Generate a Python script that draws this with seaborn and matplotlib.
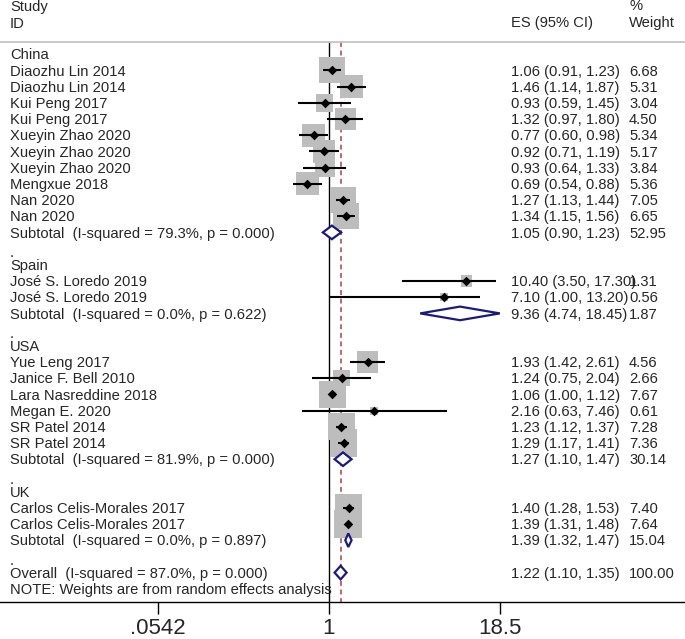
import matplotlib
matplotlib.use('Agg')
import matplotlib.pyplot as plt
import matplotlib.transforms as mtransforms
import numpy as np
import pandas as pd
import seaborn as sns

# Data
groups = ['China', 'Spain', 'USA', 'UK']
studies = ['Diaozhu Lin 2014', 'Diaozhu Lin 2014', 'Kui Peng 2017', 'Kui Peng 2017',
           'Xueyin Zhao 2020', 'Xueyin Zhao 2020', 'Xueyin Zhao 2020', 'Mengxue 2018',
           'Nan 2020', 'Nan 2020',
           'José S. Loredo 2019', 'José S. Loredo 2019',
           'Yue Leng 2017', 'Janice F. Bell 2010', 'Lara Nasreddine 2018', 'Megan E. 2020',
           'SR Patel 2014', 'SR Patel 2014',
           'Carlos Celis-Morales 2017', 'Carlos Celis-Morales 2017']
study_group = ['China'] * 10 + ['Spain'] * 2 + ['USA'] * 6 + ['UK'] * 2
es = [1.06, 1.46, 0.93, 1.32, 0.77, 0.92, 0.93, 0.69, 1.27, 1.34,
      10.40, 7.10,
      1.93, 1.24, 1.06, 2.16, 1.23, 1.29,
      1.40, 1.39]
lo = [0.91, 1.14, 0.59, 0.97, 0.60, 0.71, 0.64, 0.54, 1.13, 1.15,
      3.50, 1.00,
      1.42, 0.75, 1.00, 0.63, 1.12, 1.17,
      1.28, 1.31]
hi = [1.23, 1.87, 1.45, 1.80, 0.98, 1.19, 1.33, 0.88, 1.44, 1.56,
      17.30, 13.20,
      2.61, 2.04, 1.12, 7.46, 1.37, 1.41,
      1.53, 1.48]
weight = [6.68, 5.31, 3.04, 4.50, 5.34, 5.17, 3.84, 5.36, 7.05, 6.65,
          1.31, 0.56,
          4.56, 2.66, 7.67, 0.61, 7.28, 7.36,
          7.40, 7.64]

sub_es = [1.05, 9.36, 1.27, 1.39]
sub_lo = [0.90, 4.74, 1.10, 1.32]
sub_hi = [1.23, 18.45, 1.47, 1.47]
sub_weight = [52.95, 1.87, 30.14, 15.04]
sub_i2 = ['79.3', '0.0', '81.9', '0.0']
sub_p = ['0.000', '0.622', '0.000', '0.897']

overall_es, overall_lo, overall_hi, overall_w = 1.22, 1.10, 1.35, 100.00
overall_i2, overall_p = '87.0', '0.000'

xticks = [0.0542, 1, 18.5]
xtick_labels = ['.0542', '1', '18.5']

# Build row layout
df = pd.DataFrame({'study': studies, 'group': study_group, 'es': es,
                   'lo': lo, 'hi': hi, 'weight': weight})
rows = []
r = 0
study_rows = []
sub_rows = []
for gi, g in enumerate(groups):
    if gi > 0:
        rows.append((r, '.'))
        r += 1
    rows.append((r, g))
    r += 1
    for _, s in df[df['group'] == g].iterrows():
        rows.append((r, s['study']))
        study_rows.append(r)
        r += 1
    sub_rows.append(r)
    rows.append((r, f'Subtotal  (I-squared = {sub_i2[gi]}%, p = {sub_p[gi]})'))
    r += 1
rows.append((r, '.'))
r += 1
overall_row = r
rows.append((r, f'Overall  (I-squared = {overall_i2}%, p = {overall_p})'))
r += 1
note_row = r
rows.append((r, 'NOTE: Weights are from random effects analysis'))
df['row'] = study_rows

sns.set_style('white')
plt.rcParams['font.family'] = ['Liberation Sans', 'DejaVu Sans']

W, H = 685, 639
fig = plt.figure(figsize=(W / 100, H / 100), dpi=100)
axis_px = 602
ax = fig.add_axes([0, (H - axis_px) / H, 1, axis_px / H])
ax.set_xscale('log')

px_per_log = 58.6
one_px = 329
ax.set_xlim(np.exp(-one_px / px_per_log), np.exp((W - one_px) / px_per_log))
row0_px, row_h = 54.2, 16.2
ax.set_ylim((axis_px - row0_px) / row_h, -row0_px / row_h)
top_line = (41.7 - row0_px) / row_h
bottom = (axis_px - row0_px) / row_h

# reference lines
ax.vlines(1, top_line, bottom, color='black', lw=1.0, zorder=1)
ax.vlines(overall_es, top_line, bottom, color='#a8404c', lw=1.1,
          linestyles=(0, (3.2, 2.4)), zorder=1)

# weight boxes (area proportional to weight)
k = 51.84
sns.scatterplot(data=df, x='es', y='row', size='weight',
                sizes=(k * df['weight'].min(), k * df['weight'].max()),
                size_norm=(df['weight'].min(), df['weight'].max()),
                marker='s', color='#bdbdbd', linewidth=0, legend=False,
                ax=ax, zorder=2)
ax.hlines(df['row'], df['lo'], df['hi'], color='black', lw=1.5, zorder=3)
sns.scatterplot(data=df, x='es', y='row', marker='D', color='black', s=24,
                linewidth=0, legend=False, ax=ax, zorder=4)

# pooled diamonds
navy = '#1a1a7c'
for rr, e, l, h in zip(sub_rows + [overall_row], sub_es + [overall_es],
                       sub_lo + [overall_lo], sub_hi + [overall_hi]):
    ax.fill([l, e, h, e, l], [rr, rr - 0.42, rr, rr + 0.42, rr],
            facecolor='white', edgecolor=navy, lw=1.6, zorder=3)

# text columns
tr = mtransforms.blended_transform_factory(ax.transAxes, ax.transData)
fs = 10.6
dy = 0.08
x_lab, x_es, x_w = 10 / W, 511 / W, 629 / W
for rr, label in rows:
    off = 0.3 if label == '.' else dy
    ax.text(x_lab, rr + off, label, transform=tr, fontsize=fs, va='center', ha='left')
for _, s in df.iterrows():
    ax.text(x_es, s['row'] + dy, f"{s['es']:.2f} ({s['lo']:.2f}, {s['hi']:.2f})",
            transform=tr, fontsize=fs, va='center')
    ax.text(x_w, s['row'] + dy, f"{s['weight']:.2f}", transform=tr, fontsize=fs, va='center')
for rr, e, l, h, w in zip(sub_rows + [overall_row], sub_es + [overall_es],
                          sub_lo + [overall_lo], sub_hi + [overall_hi],
                          sub_weight + [overall_w]):
    ax.text(x_es, rr + dy, f"{e:.2f} ({l:.2f}, {h:.2f})", transform=tr, fontsize=fs, va='center')
    ax.text(x_w, rr + dy, f"{w:.2f}", transform=tr, fontsize=fs, va='center')

# header
def prow(px):
    return (px - row0_px) / row_h

ax.text(x_lab, prow(7), 'Study', transform=tr, fontsize=fs, va='center')
ax.text(x_lab, prow(23.5), 'ID', transform=tr, fontsize=fs, va='center')
ax.text(x_es, prow(23.5), 'ES (95% CI)', transform=tr, fontsize=fs, va='center')
ax.text(x_w, prow(6), '%', transform=tr, fontsize=fs, va='center')
ax.text(x_w, prow(23.5), 'Weight', transform=tr, fontsize=fs, va='center')
ax.axhline(top_line, color='#c4c4c4', lw=1.3, zorder=1)

# axis styling
for side in ['top', 'left', 'right']:
    ax.spines[side].set_visible(False)
ax.spines['bottom'].set_color('black')
ax.spines['bottom'].set_linewidth(1.0)
ax.set_xticks(xticks)
ax.set_xticklabels(xtick_labels)
ax.xaxis.set_minor_locator(matplotlib.ticker.NullLocator())
ax.tick_params(axis='x', which='major', bottom=True, length=8.6, width=1.0,
               labelsize=16, pad=3, color='black')
ax.set_yticks([])
ax.set_xlabel('')
ax.set_ylabel('')

fig.savefig('out.png', dpi=100)
